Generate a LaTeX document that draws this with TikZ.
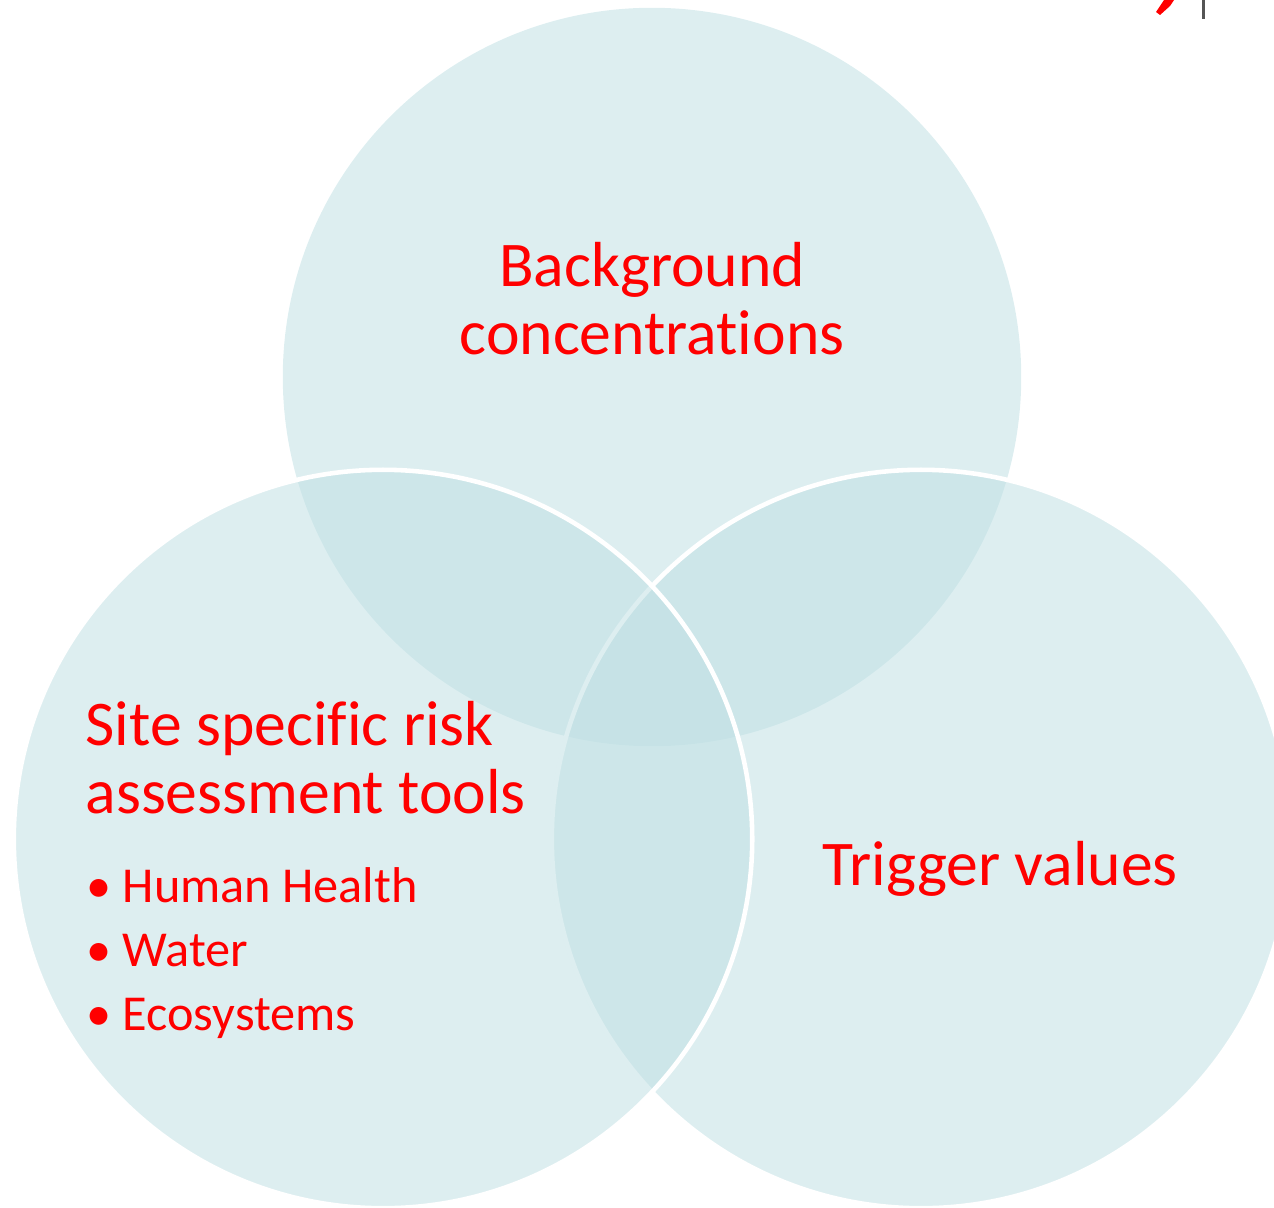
\documentclass[tikz,border=0pt]{standalone}
\usepackage{fontspec}
\setmainfont{Carlito}[Ligatures={NoCommon,NoRare}]
\definecolor{vennfill}{RGB}{191,223,227}
\definecolor{vennred}{RGB}{255,0,0}
\definecolor{rulegray}{RGB}{85,85,85}

\begin{document}
\begin{tikzpicture}[x=0.01cm,y=-0.01cm,
    venn/.style={fill=vennfill,fill opacity=0.53},
    bigtxt/.style={text=vennred,inner sep=0pt,font=\fontsize{18.1}{19.4}\selectfont},
    smalltxt/.style={text=vennred,inner sep=0pt,font=\fontsize{14.3}{18.2}\selectfont}]
      \useasboundingbox (0,0) rectangle (1274,1207) ;
      % the three sets, top one first
      \fill[venn] (652,377) circle[radius=3.69cm] ;
      \filldraw[venn,draw=white,draw opacity=1,line width=1.3pt] (921,839) circle[radius=3.69cm] ;
      \filldraw[venn,draw=white,draw opacity=1,line width=1.3pt] (383,839) circle[radius=3.69cm] ;
      % labels
      \node[bigtxt,anchor=base] (bg1) at (652,287) {Background} ;
      \node[bigtxt,anchor=base] (bg2) at (652,355) {concentrations} ;
      \node[bigtxt,anchor=base west] (site1) at (85,745) {Site specific risk} ;
      \node[bigtxt,anchor=base west] (site2) at (85,813) {assessment tools} ;
      \foreach \y/\t [count=\i] in {902/Human Health,966/Water,1030/Ecosystems}
        \node[smalltxt,anchor=base west] (item\i) at (86,\y) %
        {\makebox[0.36cm][l]{\textbullet}\t} ;
      \node[bigtxt,anchor=base west] (trig) at (822,885) {Trigger values} ;
      % bits cut off at the top edge
      \fill[vennred] (1164,0)--(1174,0)--(1170,6)--(1160,15)--(1156,12)--cycle ;
      \fill[rulegray] (1202,0) rectangle (1205,19) ;
    \end{tikzpicture}
\end{document}
